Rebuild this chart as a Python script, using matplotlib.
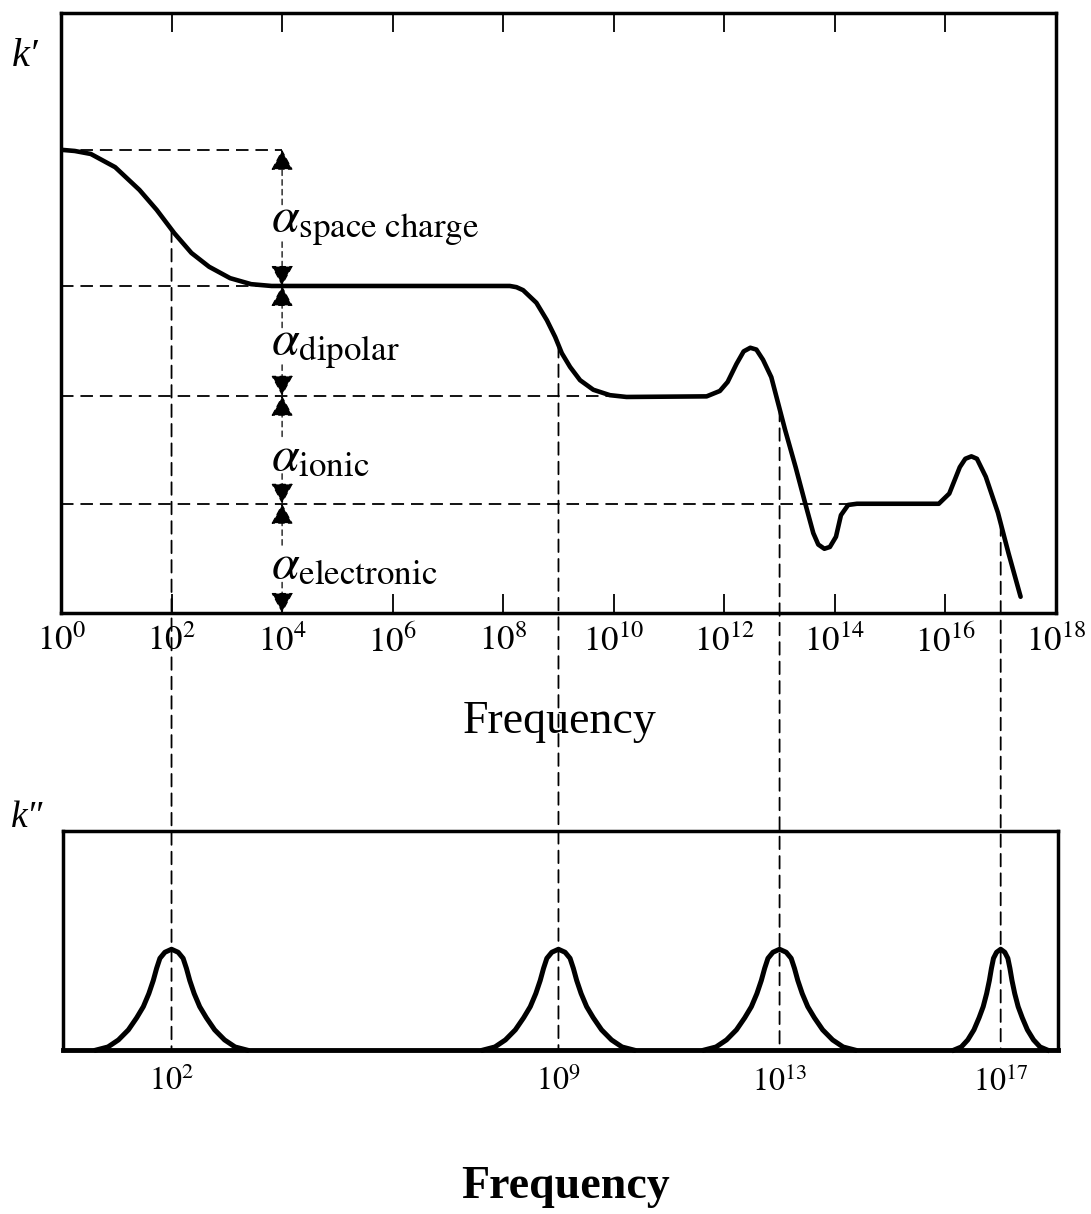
import numpy as np
import matplotlib.pyplot as plt
from matplotlib.patches import ConnectionPatch

plt.rcParams['font.family'] = ['Liberation Serif', 'DejaVu Serif']
plt.rcParams['mathtext.fontset'] = 'stix'
plt.rcParams['lines.scale_dashes'] = False

# k' curve, x = log10(frequency)
kp_logf = [0.00, 0.25, 0.54, 0.98, 1.42, 1.73, 2.05, 2.36, 2.68, 3.06, 3.44, 3.81,
           8.12, 8.24, 8.36, 8.60, 8.79, 8.94, 9.06, 9.21, 9.39, 9.63, 9.93, 10.23,
           11.68, 11.92, 12.06, 12.22, 12.35, 12.47, 12.58, 12.70, 12.85, 13.10,
           13.29, 13.48, 13.61, 13.70, 13.81, 13.91, 14.02, 14.11, 14.24, 14.40,
           15.88, 16.07, 16.26, 16.36, 16.47, 16.57, 16.73, 16.95, 17.14, 17.36]
kp_val = [7.72, 7.70, 7.65, 7.43, 7.05, 6.72, 6.33, 6.00, 5.77, 5.58, 5.48, 5.45,
          5.45, 5.43, 5.38, 5.17, 4.88, 4.60, 4.33, 4.10, 3.88, 3.72, 3.63, 3.60,
          3.61, 3.70, 3.85, 4.15, 4.36, 4.42, 4.39, 4.22, 3.93, 3.05,
          2.43, 1.77, 1.33, 1.14, 1.07, 1.10, 1.27, 1.63, 1.80, 1.82,
          1.82, 1.99, 2.43, 2.57, 2.61, 2.57, 2.27, 1.67, 1.00, 0.27]

# plateau levels and where their dashed guides stop
levels = [7.72, 5.45, 3.62, 1.82, 0.0]
level_ends = [4.0, 4.0, 10.2, 14.3]
alpha_names = ['space\\ charge', 'dipolar', 'ionic', 'electronic']
arrow_logf = 4.0
top_ticks = list(range(0, 19, 2))

# k'' loss peaks
peak_logf = [2, 9, 13, 17]
peak_width = [1.0, 1.0, 1.0, 0.62]
peak_height = 0.46
profile_dx = [0, 0.12, 0.21, 0.27, 0.33, 0.41, 0.51, 0.63, 0.78, 0.96, 1.15, 1.36]
profile_h = [1, 0.97, 0.91, 0.81, 0.69, 0.56, 0.43, 0.32, 0.20, 0.10, 0.03, 0]

fig = plt.figure(figsize=(10.91, 12.14), dpi=100)
top = fig.add_axes([0.0559, 0.4951, 0.9120, 0.4942])
bot = fig.add_axes([0.0577, 0.1351, 0.9120, 0.1804])

top.set_xlim(0, 18)
top.set_ylim(0, 10)
bot.set_xlim(0.036, 18.036)
bot.set_ylim(0, 1)

top.plot(kp_logf, kp_val, color='k', lw=3.3, solid_joinstyle='round',
         solid_capstyle='round')

for lev, end in zip(levels[:4], level_ends):
    top.plot([0, end], [lev, lev], color='k', lw=1.3, ls=(0, (9, 5)))

arrow_kw = dict(arrowstyle='-|>,head_length=0.65,head_width=0.35', mutation_scale=20,
                lw=0.9, ls=(0, (4, 3)), color='k', shrinkA=0, shrinkB=0)
for i, name in enumerate(alpha_names):
    upper, lower = levels[i], levels[i + 1]
    mid = (upper + lower) / 2
    top.annotate('', xy=(arrow_logf, upper), xytext=(arrow_logf, mid + 0.22),
                 arrowprops=arrow_kw)
    top.annotate('', xy=(arrow_logf, lower), xytext=(arrow_logf, mid - 0.4),
                 arrowprops=arrow_kw)
    top.text(arrow_logf - 0.2, mid - 0.12, r'$\alpha_{\rm %s}$' % name,
             fontsize=36, ha='left', va='center')

top.set_xticks(top_ticks)
top.set_xticklabels([rf'$10^{{{t}}}$' for t in top_ticks])
top.set_yticks([])
top.tick_params(axis='x', direction='in', length=14, width=1.3, top=True,
                bottom=True, pad=9, labelsize=25)
for s in top.spines.values():
    s.set_linewidth(2.5)

for c, w in zip(peak_logf, peak_width):
    dx = np.array(profile_dx) * w
    h = np.array(profile_h) * peak_height
    x = np.concatenate([c - dx[::-1], c + dx[1:]])
    y = np.concatenate([h[::-1], h[1:]])
    bot.plot(x, y, color='k', lw=3.6, solid_joinstyle='round', clip_on=False)

bot.set_xticks(peak_logf)
bot.set_xticklabels([rf'$10^{{{p}}}$' for p in peak_logf])
bot.set_yticks([])
bot.tick_params(axis='x', length=0, pad=12, labelsize=23)
for s in bot.spines.values():
    s.set_linewidth(2.5)
bot.spines['bottom'].set_linewidth(3.5)

# dashed guides from the k' curve down to each k'' peak
for xp in peak_logf:
    y0 = np.interp(xp, kp_logf, kp_val)
    con = ConnectionPatch(xyA=(xp, y0), coordsA=top.transData,
                          xyB=(xp, 0), coordsB=bot.transData,
                          color='k', lw=1.3, ls=(0, (9, 5)))
    fig.add_artist(con)

fig.text(25 / 1091, 1 - 57 / 1214, 'k\u2032', fontsize=29, fontstyle='italic',
         ha='center', va='center')
fig.text(27 / 1091, 1 - 818 / 1214, 'k\u2033', fontsize=27, fontstyle='italic',
         ha='center', va='center')
fig.text(560 / 1091, 1 - 722 / 1214, 'Frequency', fontsize=33,
         ha='center', va='center')
fig.text(566 / 1091, 1 - 1187 / 1214, 'Frequency', fontsize=33, fontweight='bold',
         ha='center', va='center')

fig.savefig('out.png', dpi=100)
